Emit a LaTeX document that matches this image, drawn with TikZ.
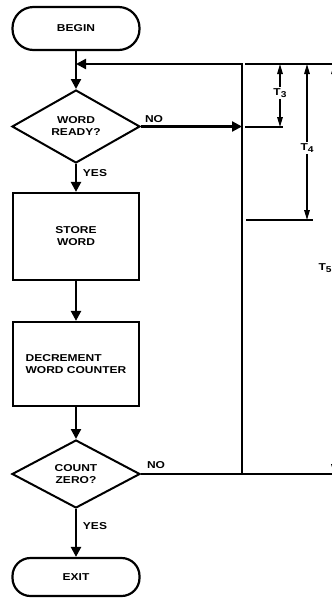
\documentclass[tikz,border=0pt]{standalone}
\usepackage{fontspec}
\newfontfamily\lbl{Liberation Sans Bold}[FakeStretch=1.2]
\usetikzlibrary{shapes.geometric,arrows.meta}
\begin{document}
\begin{tikzpicture}[x=1pt,y=-1pt,
  txt/.style={font=\lbl\fontsize{10}{12}\selectfont},
  flow/.style={line width=2.3pt},
  dim/.style={line width=1.5pt},
  tip/.style={-{Triangle[length=10pt,width=10pt]}},
  dtip/.style={-{Triangle[length=10pt,width=5.5pt]}},
  term/.style={draw,txt,line width=2.2pt,minimum width=127pt,inner sep=0pt},
  box/.style={draw,txt,line width=2.2pt,minimum width=126pt,inner sep=0pt},
  decision/.style={draw,txt,diamond,line width=2pt,minimum width=128pt,inner sep=0pt,align=center},
  tlabel/.style={txt,inner sep=1pt}
]
\useasboundingbox (0,0) rectangle (332,598);

% flow nodes
\node[term,minimum height=43pt,rounded corners=21pt] (begin) at (76,28.5) {BEGIN};
\node[decision,minimum height=73pt] (ready) at (76,126.5) {WORD\\READY?};
\node[box,minimum height=87pt,align=center] (store) at (76,236.5) {STORE\\WORD};
\node[box,minimum height=84pt,align=left] (decr) at (76,364) {DECREMENT\\WORD COUNTER};
\node[decision,minimum height=68pt] (count) at (76,474) {COUNT\\ZERO?};
\node[term,minimum height=38pt,rounded corners=18pt] (exit) at (76,577) {EXIT};

% key points
\coordinate (join) at (76,64);
\coordinate (rt) at (242,64);
\coordinate (edge) at (340,64);

% flow connectors
\draw[flow,tip] (begin.south) -- (ready.north);
\draw[flow,tip] (ready.south) -- (store.north);
\draw[flow,tip] (store.south) -- (decr.north);
\draw[flow,tip] (decr.south) -- (count.north);
\draw[flow,tip] (count.south) -- (exit.north);
\draw[flow,tip] (count.east) -- (count.east -| rt) -- (rt) -- (join);
\draw[flow,tip] (ready.east) -- (ready.east -| rt);
\draw[flow] (count.east -| rt) -- (count.east -| edge);

% branch labels
\node[txt] (no1) at (154,119) {NO};
\node[txt] (yes1) at (95,173) {YES};
\node[txt] (no2) at (156,465) {NO};
\node[txt] (yes2) at (95,526) {YES};

% dimension reference lines
\coordinate (topL) at (245,64);
\coordinate (r3L) at (245,127);
\coordinate (r3R) at (283,127);
\coordinate (r4L) at (246,220);
\coordinate (r4R) at (313,220);
\draw[dim] (topL) -- (edge);
\draw[dim] (r3L) -- (r3R);
\draw[dim] (r4L) -- (r4R);

% dimension labels and arrows
\node[tlabel] (t3) at (280,93) {T\raisebox{-2.5pt}{\fontsize{8.5}{8.5}\selectfont 3}};
\node[tlabel] (t4) at (307,148) {T\raisebox{-2.5pt}{\fontsize{8.5}{8.5}\selectfont 4}};
\node[tlabel] (t5) at (325,268) {T\raisebox{-2.5pt}{\fontsize{8.5}{8.5}\selectfont 5}};
\coordinate (t5x) at (334,268);
\draw[dim,dtip] (t3.north) -- (t3.north |- topL);
\draw[dim,dtip] (t3.south) -- (t3.south |- r3R);
\draw[dim,dtip] (t4.north) -- (t4.north |- topL);
\draw[dim,dtip] (t4.south) -- (t4.south |- r4R);
\draw[dim,dtip] (t5.north -| t5x) -- (t5x |- topL);
\draw[dim,dtip] (t5.south -| t5x) -- (t5x |- count.east);
\end{tikzpicture}
\end{document}
